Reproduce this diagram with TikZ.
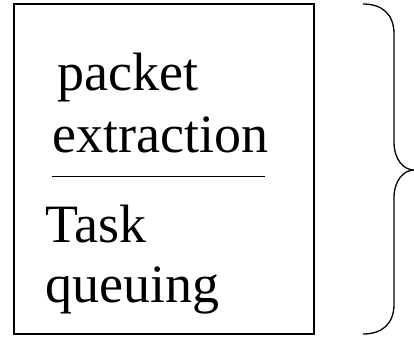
\documentclass[tikz,border=0pt]{standalone}
\usepackage{fontspec}
\setmainfont{Liberation Serif}
\usetikzlibrary{positioning}
\tikzset{
	boxline/.style={draw, line width=1.3pt},
	steptext/.style={anchor=base west, inner sep=0pt, align=left,
		font=\fontsize{54}{62}\selectfont},
}
\begin{document}
\begin{tikzpicture}[x=1pt, y=-1pt]
	\useasboundingbox (0,0) rectangle (414,338);
	
	%% -- outer box
	\draw[boxline] (14,4) rectangle (314,334);
	
	%% -- the two steps
	\node[steptext] (pkt) at (52,152) {\hspace*{5pt}packet\\extraction};
	\node[steptext, font=\fontsize{54}{60}\selectfont] (task) at (45,302)
	{Task\\queuing};
	
	%% -- separator between the steps
	\coordinate (sepL) at (52,176);
	\coordinate (sepR) at (265,176);
	\draw[line width=1pt] (sepL) -- (sepR);
	
	%% -- brace on the right
	\draw[boxline] (363,4) .. controls (382,4) and (394,14) .. (394,34)
	-- (394,142) .. controls (394,160) and (404,170) .. (414,170)
	.. controls (404,170) and (394,180) .. (394,198)
	-- (394,304) .. controls (394,324) and (382,334) .. (363,334);
	
\end{tikzpicture}
\end{document}
